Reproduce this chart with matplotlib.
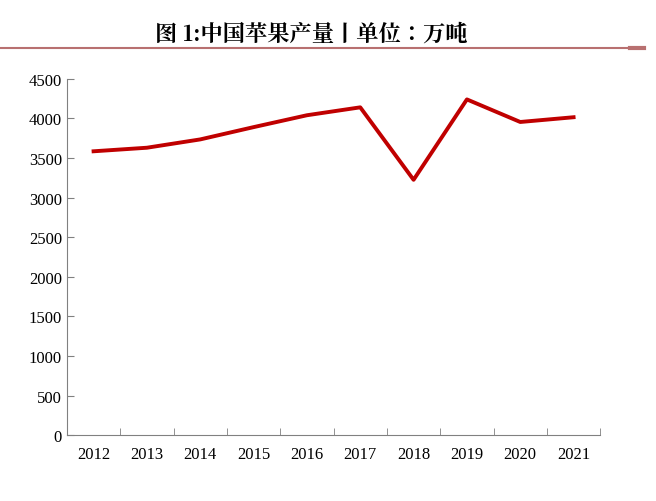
import matplotlib
matplotlib.use("Agg")
import matplotlib.pyplot as plt
from matplotlib.lines import Line2D
from matplotlib import font_manager as fm

years = ["2012","2013","2014","2015","2016","2017","2018","2019","2020","2021"]
production = [3585, 3630, 3735, 3890, 4040, 4140, 3225, 4240, 3955, 4015]
yticks = [0,500,1000,1500,2000,2500,3000,3500,4000,4500]

cjk = [f for f in fm.fontManager.ttflist if "CJK" in f.name]
cjk_sc = [f for f in cjk if "SC" in f.name] or cjk
cjk_name = cjk_sc[0].name if cjk_sc else "DejaVu Sans"

fig = plt.figure(figsize=(6.56,5.02), dpi=100)
ax = fig.add_axes([0.102, 0.131, 0.813, 0.710])
x = list(range(len(years)))
ax.plot(x, production, color="#C00000", lw=2.8)
ax.set_xlim(-0.5, len(years)-0.5)
ax.set_ylim(0, 4500)
ax.set_yticks(yticks)
ax.set_yticklabels([str(v) for v in yticks], fontfamily="Liberation Serif", fontsize=12)
ax.set_xticks(x)
ax.set_xticklabels(years, fontfamily="Liberation Serif", fontsize=12)
ax.tick_params(axis="x", length=0, pad=8)
ax.set_xticks([i+0.5 for i in range(-1, len(years))], minor=True)
ax.tick_params(axis="x", which="minor", length=5, direction="in", color="#808080")
ax.tick_params(axis="y", length=5, direction="in", color="#808080")
for s in ["top","right"]:
    ax.spines[s].set_visible(False)
for s in ["left","bottom"]:
    ax.spines[s].set_color("#808080")

fig.text(0.475, 0.932, "图 1:中国苹果产量丨单位：万吨", ha="center", va="center",
         fontfamily=cjk_name, fontweight="bold", fontsize=16)
fig.add_artist(Line2D([0, 0.96], [0.902, 0.902], color="#B87070", lw=1.5, transform=fig.transFigure))
fig.add_artist(Line2D([0.96, 0.982], [0.902, 0.902], color="#B87070", lw=3, transform=fig.transFigure))
fig.savefig("out.png", dpi=100)
